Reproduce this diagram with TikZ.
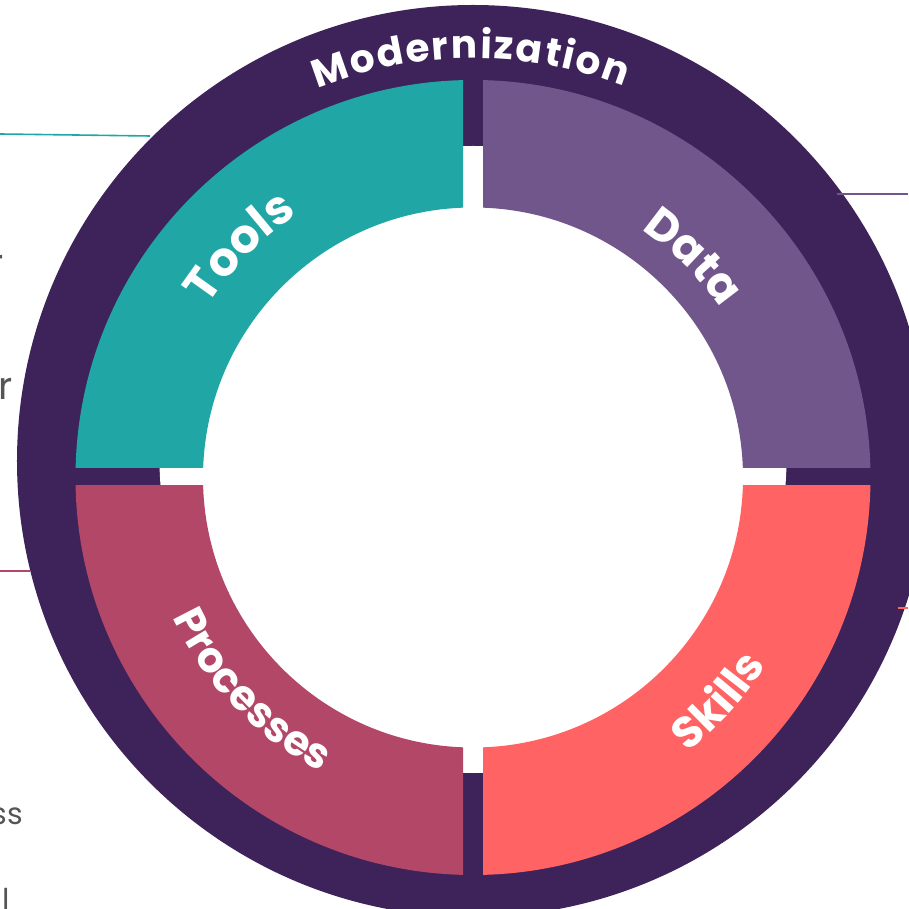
\documentclass[tikz,border=0pt]{standalone}
\usepackage{fontspec}
\setmainfont{Poppins}
\usetikzlibrary{decorations.text}
\definecolor{ringcolor}{RGB}{61,35,89}
\definecolor{toolscolor}{RGB}{33,166,166}
\definecolor{datacolor}{RGB}{113,86,140}
\definecolor{skillscolor}{RGB}{255,99,99}
\definecolor{processcolor}{RGB}{178,71,103}
\definecolor{notecolor}{RGB}{85,85,85}
\begin{document}
\begin{tikzpicture}[x=1pt,y=1pt,
  leader/.style={line width=1.6pt},
  note/.style={inner sep=0pt,text=notecolor,font=\fontsize{30}{30}\selectfont},
  bignote/.style={note,font=\fontsize{38}{38}\selectfont}]
\useasboundingbox (-473,-431.5) rectangle (435,477.5);
% ring and white disc
\fill[ringcolor] (0,16.5) circle (456);
\fill[white] (0,18) circle (313.5);
% quarters
\begin{scope}
\clip (-10,9.5) rectangle (-420,420);
\fill[toolscolor,even odd rule] (0,0) circle (397.5) circle (270);
\end{scope}
\begin{scope}
\clip (10,9.5) rectangle (420,420);
\fill[datacolor,even odd rule] (0,0) circle (397.5) circle (270);
\end{scope}
\begin{scope}
\clip (10,-8.5) rectangle (420,-420);
\fill[skillscolor,even odd rule] (0,0) circle (397.5) circle (270);
\end{scope}
\begin{scope}
\clip (-10,-8.5) rectangle (-420,-420);
\fill[processcolor,even odd rule] (0,0) circle (397.5) circle (270);
\end{scope}
% curved labels
\path[decorate,decoration={text along path,text align={fit to path},
  text={|\fontsize{39}{39}\selectfont\bfseries\color{white}|Modernization}}]
  (111.8:419) arc[start angle=111.8,end angle=68.8,radius=419];
\path[decorate,decoration={text along path,text align={fit to path},
  text={|\fontsize{47}{47}\selectfont\bfseries\color{white}|Tools}}]
  (147:316) arc[start angle=147,end angle=123.6,radius=316];
\path[decorate,decoration={text along path,text align={fit to path},
  text={|\fontsize{45}{45}\selectfont\bfseries\color{white}|Data}}]
  (55.8:300) arc[start angle=55.8,end angle=35,radius=300];
\path[decorate,decoration={text along path,text align={fit to path},
  text={|\fontsize{44}{44}\selectfont\bfseries\color{white}|Skills}}]
  (-52:348.5) arc[start angle=-52,end angle=-32.6,radius=348.5];
\path[decorate,decoration={text along path,text align={fit to path},
  text={|\fontsize{42}{42}\selectfont\bfseries\color{white}|Processes}}]
  (205:331.5) arc[start angle=205,end angle=241.3,radius=331.5];
% leader lines
\coordinate (toolsend) at (-473,343.5);
\coordinate (toolsring) at (-323,341.5);
\coordinate (dataring) at (364,283.5);
\coordinate (dataend) at (435,283.5);
\coordinate (skillsring) at (425,-130.5);
\coordinate (skillsend) at (435,-130.5);
\coordinate (processend) at (-473,-93.5);
\coordinate (processring) at (-443,-93.5);
\draw[leader,toolscolor] (toolsend) -- (toolsring);
\draw[leader,datacolor] (dataring) -- (dataend);
\draw[leader,skillscolor] (skillsring) -- (skillsend);
\draw[leader,processcolor] (processend) -- (processring);
% cut notes
\node[bignote,anchor=base east] (notea) at (-469,200.5) {r};
\node[bignote,anchor=base east] (noteb) at (-460,77.5) {r};
\node[note,anchor=base east] (notec) at (-450,-346.5) {ss};
\node[note,anchor=base] (noted) at (-467,-432.5) {l};
\end{tikzpicture}
\end{document}
